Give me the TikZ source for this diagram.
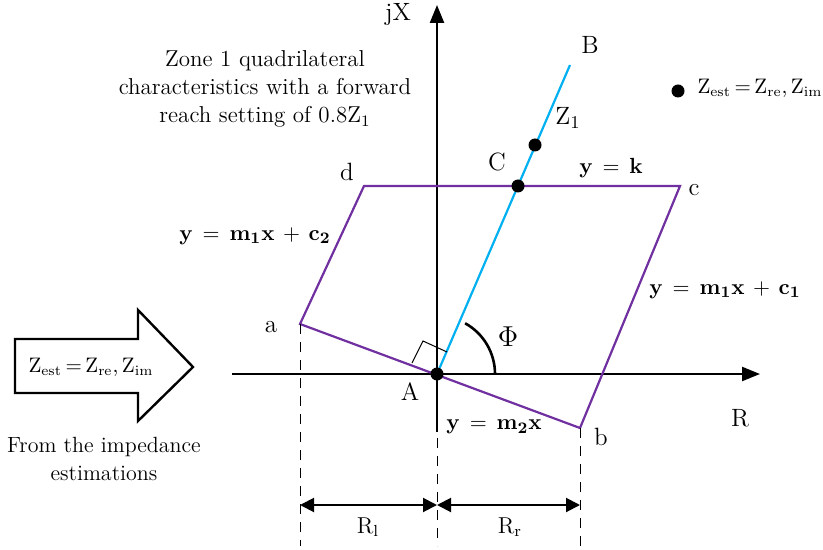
\documentclass[tikz,border=0pt]{standalone}
\usetikzlibrary{arrows.meta}
\definecolor{zonepurple}{RGB}{112,48,160}
\definecolor{reachblue}{RGB}{0,176,240}
\tikzset{
  axis/.style={line width=1.2pt, -{Triangle[length=9pt,width=7pt]}},
  zone/.style={zonepurple, line width=1.1pt},
  dimline/.style={line width=1pt, {Triangle[length=7pt,width=7pt]}-{Triangle[length=7pt,width=7pt]}},
  guide/.style={line width=0.5pt, dash pattern=on 5pt off 4pt},
  spot/.style={circle, fill=black, inner sep=0pt, minimum size=6.5pt},
  eqn/.style={font=\fontsize{11}{13}\selectfont},
  lbl/.style={font=\fontsize{12.5}{15}\selectfont},
  est/.style={font=\fontsize{10.5}{13}\selectfont, inner sep=0pt}
}
\newcommand{\zest}{Z$_{\mathrm{est}}$\,=\,Z$_{\mathrm{re}}$,\,Z$_{\mathrm{im}}$}
\begin{document}
\begin{tikzpicture}[x=0.5pt,y=-0.5pt, font=\fontsize{11.5}{14}\selectfont]
\useasboundingbox (0,0) rectangle (823,550);
% corners of the zone
\coordinate (A) at (437,374);
\coordinate (a) at (300,324);
\coordinate (b) at (580,428);
\coordinate (c) at (680,186);
\coordinate (d) at (364,186);
\coordinate (B) at (570,65);
\coordinate (bot) at (0,546);
% axes
\draw[axis] (232,374) -- (760,374);
\draw[axis] (437,432) -- (437,5);
\node[lbl] at (398,15) {jX};
\node[lbl] at (740,418) {R};
% quadrilateral and reach line
\draw[zone] (a) -- (b) -- (c) -- (d) -- cycle;
\draw[reachblue, line width=1.1pt] (A) -- (B);
% right angle and angle
\draw[line width=0.5pt] (412,363) -- (423,341) -- (447,352);
\draw[line width=1.3pt] (495,374) arc[start angle=0, end angle=-61, radius=58];
\node[font=\fontsize{14}{16}\selectfont] at (508,337) {$\Phi$};
% points
\node[spot] (pA) at (A) {};
\node[spot] (pC) at (518,186) {};
\node[spot] (pZ) at (535,145) {};
\node[spot] (pE) at (678,91) {};
\node[lbl] at (590,45) {B};
\node[lbl] at (497,162) {C};
\node[lbl] at (568,118) {Z$_1$};
\node[lbl] at (410,392) {A};
\node[lbl] at (347,172) {d};
\node[lbl] at (694,190) {c};
\node[lbl] at (271,327) {a};
\node[lbl] at (601,437) {b};
\node[est] at (760,88) {\zest};
% boundary equations
\node[eqn] at (611,168) {$\mathbf{y\,=\,k}$};
\node[eqn] at (255,236) {$\mathbf{y\,=\,m_1x\,+\,c_2}$};
\node[eqn] at (725,290) {$\mathbf{y\,=\,m_1x\,+\,c_1}$};
\node[eqn] at (494,427) {$\mathbf{y\,=\,m_2x}$};
% caption
\node[align=center] at (265,89) {Zone 1 quadrilateral\\characteristics with a forward\\reach setting of 0.8Z$_1$};
% input arrow
\draw[line width=1.2pt] (15,339) -- (138,339) -- (138,310) -- (193,367) -- (138,421) -- (138,393) -- (15,393) -- cycle;
\node[est] at (91,367) {\zest};
\node[align=center, font=\fontsize{11}{14}\selectfont] at (104,459) {From the impedance\\estimations};
% resistive reach
\draw[guide] (a) -- (a |- bot);
\draw[guide] (437,438) -- (A |- bot);
\draw[guide] (b) -- (b |- bot);
\coordinate (dl) at (300,505);
\coordinate (dm) at (437,505);
\coordinate (dr) at (580,505);
\draw[dimline] (dl) -- (dm);
\draw[dimline] (dm) -- (dr);
\node at (368,527) {R$_{\mathrm{l}}$};
\node at (510,527) {R$_{\mathrm{r}}$};
\end{tikzpicture}
\end{document}
